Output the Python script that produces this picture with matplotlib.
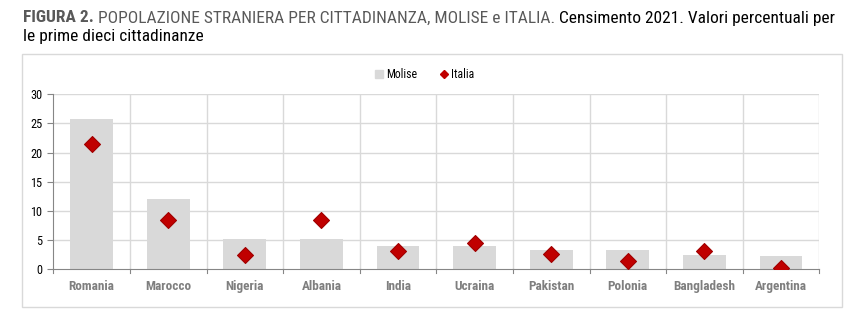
import matplotlib
matplotlib.use("Agg")
import matplotlib.pyplot as plt
from matplotlib import font_manager
from matplotlib.patches import Rectangle
from matplotlib.lines import Line2D

# Dati: percentuali per le prime dieci cittadinanze
paesi = ["Romania", "Marocco", "Nigeria", "Albania", "India",
         "Ucraina", "Pakistan", "Polonia", "Bangladesh", "Argentina"]
molise = [25.8, 12.1, 5.2, 5.2, 4.0, 4.0, 3.3, 3.3, 2.4, 2.3]
italia = [21.5, 8.4, 2.4, 8.4, 3.2, 4.5, 2.7, 1.5, 3.1, 0.2]
y_ticks = [0, 5, 10, 15, 20, 25, 30]

# cerca un carattere stretto tra quelli installati
nomi = {f.name for f in font_manager.fontManager.ttflist}
FONT, STRETCH = "Liberation Sans", "normal"
for nome in ["Liberation Sans Narrow", "Arial Narrow", "Roboto Condensed",
             "Open Sans Condensed", "Noto Sans Condensed"]:
    if nome in nomi:
        FONT = nome
        break
else:
    for f in font_manager.fontManager.ttflist:
        if f.name in ("Noto Sans", "Open Sans", "DejaVu Sans") and \
                str(f.stretch) in ("condensed", "semi-condensed", "600", "700", "750"):
            FONT, STRETCH = f.name, "condensed"
            break
plt.rcParams["font.family"] = [FONT, "DejaVu Sans"]
plt.rcParams["font.stretch"] = STRETCH

W, H = 868, 330
fig = plt.figure(figsize=(W / 100, H / 100), dpi=100)
fig.canvas.draw()
renderer = fig.canvas.get_renderer()


def larghezza(testo, size, **kw):
    t = fig.text(0, 0, testo, fontsize=size, **kw)
    w = t.get_window_extent(renderer).width
    t.remove()
    return w


def adatta(testo, px, **kw):
    # dimensione del carattere per cui il testo occupa px pixel in larghezza
    return 10 * px / larghezza(testo, 10, **kw)


# cornice grigia attorno al grafico
fig.patches.append(Rectangle((22 / W, 1 - 307 / H), (842 - 22) / W, (307 - 54) / H,
                             transform=fig.transFigure, fill=False,
                             edgecolor="#d9d9d9", linewidth=1))

ax = fig.add_axes([53.3 / W, 1 - 269.3 / H, (819.3 - 53.3) / W, (269.3 - 94.3) / H])
x = list(range(len(paesi)))
ax.bar(x, molise, width=0.56, color="#d9d9d9", zorder=2, label="Molise")
ax.scatter(x, italia, marker="D", s=66, color="#c00000", edgecolor="#a00000",
           linewidth=0.8, zorder=3, label="Italia")

fs_cat = min(adatta("Romania", 46, fontweight="bold"), 10)
fs_y = min(adatta("30", 12), 9.5)
fs_leg = min(adatta("Molise", 31), 9.5)

ax.set_xlim(-0.5, len(paesi) - 0.5)
ax.set_ylim(0, 30)
ax.set_yticks(y_ticks)
ax.set_xticks(x)
ax.set_xticklabels(paesi, fontsize=fs_cat, fontweight="bold", color="#7f7f7f")
ax.tick_params(axis="x", length=0, pad=8)
ax.tick_params(axis="y", length=4, width=0.8, color="#868686", labelsize=fs_y, pad=4)

# griglia: orizzontale sui valori, verticale tra le categorie
for yv in y_ticks[1:]:
    ax.axhline(yv, color="#d9d9d9", linewidth=1, zorder=1)
for b in [i + 0.5 for i in range(len(paesi))]:
    ax.axvline(b, color="#d9d9d9", linewidth=1, zorder=1)
# tacche sull'asse x ai confini delle categorie
for b in [i - 0.5 for i in range(len(paesi) + 1)]:
    ax.plot([b, b], [0, -0.7], color="#868686", linewidth=0.8, clip_on=False, zorder=4)

for s in ["top", "right"]:
    ax.spines[s].set_visible(False)
for s in ["left", "bottom"]:
    ax.spines[s].set_color("#868686")
    ax.spines[s].set_linewidth(0.8)

# legenda in alto
handles = [Line2D([], [], marker="s", linestyle="none", markersize=5.5,
                  color="#d9d9d9", label="Molise"),
           Line2D([], [], marker="D", linestyle="none", markersize=4.2,
                  color="#c00000", label="Italia")]
fig.legend(handles=handles, loc="center", bbox_to_anchor=(425 / W, 1 - 75 / H),
           ncol=2, frameon=False, fontsize=fs_leg, handlelength=0.6,
           handletextpad=0.3, columnspacing=2.0)

# titolo a stili misti, adattato alla larghezza della cornice
pezzi1 = [("FIGURA 2. ", dict(fontweight="bold", color="#595959")),
          ("POPOLAZIONE STRANIERA PER CITTADINANZA, MOLISE e ITALIA. ",
           dict(color="#595959")),
          ("Censimento 2021. Valori percentuali per", dict(color="black"))]
totale = sum(larghezza(t, 10, **kw) for t, kw in pezzi1)
fs_tit = 10 * (827 - 23) / totale


def riga(pezzi, x0, y0):
    xp = x0
    for testo, kw in pezzi:
        t = fig.text(xp / W, 1 - y0 / H, testo, va="baseline", ha="left",
                     fontsize=fs_tit, **kw)
        xp += t.get_window_extent(renderer).width


riga(pezzi1, 23, 22.5)
riga([("le prime dieci cittadinanze", dict(color="black"))], 23, 41.5)

fig.savefig("out.png", dpi=100)
